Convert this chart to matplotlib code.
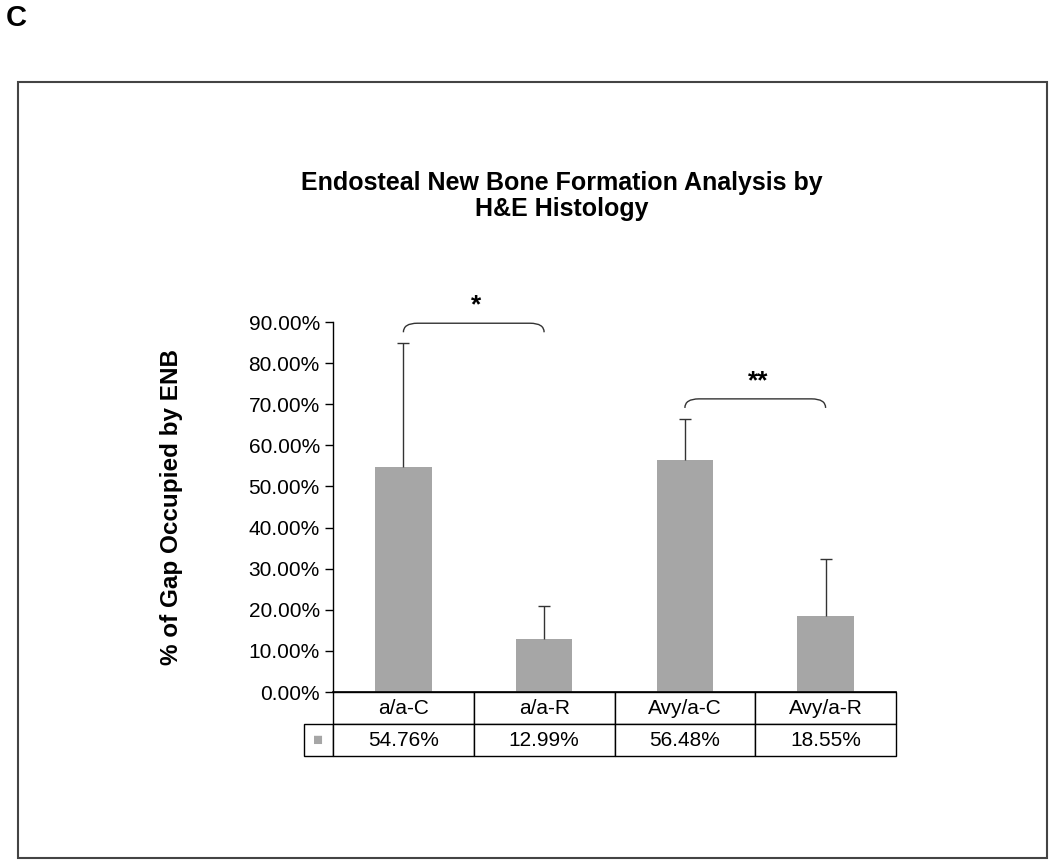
#--------------------- Importing the necessary libraries ---------------------------
import matplotlib
matplotlib.use("Agg")
import matplotlib.pyplot as plt
from matplotlib.path import Path
from matplotlib.patches import PathPatch, Rectangle
from matplotlib.table import Table
from matplotlib.ticker import FuncFormatter

plt.rcParams['font.family'] = ['Liberation Sans', 'DejaVu Sans']

#----------------------- Data -------------------------------------------------
categories = ['a/a-C', 'a/a-R', 'Avy/a-C', 'Avy/a-R']
means = [54.76, 12.99, 56.48, 18.55]          # % of gap occupied by ENB
errors_up = [30.1, 8.0, 10.0, 13.9]            # upper error bar lengths (%)
# significance brackets: (left bar, right bar, bracket height %, label)
brackets = [(0, 1, 89.7, '*'), (2, 3, 71.3, '**')]
yticks = [0, 10, 20, 30, 40, 50, 60, 70, 80, 90]

bar_color = '#a6a6a6'

#----------------------- Figure and axes ----------------------------
fig = plt.figure(figsize=(10.5, 8.61), dpi=100)
ax = fig.add_axes([333 / 1050, 169 / 861, 563 / 1050, 370 / 861])

x = list(range(len(categories)))
ax.bar(x, means, width=0.4, color=bar_color, zorder=2)
eb = ax.errorbar(x, means, yerr=[[0] * len(means), errors_up], fmt='none',
                 ecolor='#333333', elinewidth=1, capsize=4, capthick=1, zorder=3)
eb[1][0].set_visible(False)  # hide the lower caps, only upper whiskers shown

ax.set_xlim(-0.5, len(categories) - 0.5)
ax.set_ylim(0, 90)
ax.set_yticks(yticks)
ax.yaxis.set_major_formatter(FuncFormatter(lambda v, p: f'{v:.2f}%'))
ax.tick_params(axis='y', labelsize=15, length=6, width=1, direction='out')
ax.set_xticks([])
for side in ['top', 'right']:
    ax.spines[side].set_visible(False)
ax.spines['left'].set_linewidth(1)
ax.spines['bottom'].set_linewidth(1.2)

ax.set_ylabel('% of Gap Occupied by ENB', fontsize=17.5, fontweight='bold')
ax.yaxis.set_label_coords(-0.266, 0.5)

#----------------------- Significance brackets ----------------------------
for left, right, height, label in brackets:
    drop = 2.2
    bend = 0.1
    verts = [(left, height - drop), (left, height), (left + bend, height),
             (right - bend, height),
             (right, height), (right, height - drop)]
    codes = [Path.MOVETO, Path.CURVE3, Path.CURVE3, Path.LINETO,
             Path.CURVE3, Path.CURVE3]
    ax.add_patch(PathPatch(Path(verts, codes), fill=False, edgecolor='#333333',
                           lw=1, clip_on=False))
    ax.text((left + right) / 2 + 0.02, height + 4.3, label, ha='center',
            va='center', fontsize=19, fontweight='bold', clip_on=False)

#----------------------- Data table under the axes ----------------------------
row_h = 32 / 370
label_w = 29 / 563
tbl = Table(ax, bbox=[0, -2 * row_h, 1, 2 * row_h])
col_w = 1 / len(categories)
for j, cat in enumerate(categories):
    tbl.add_cell(0, j, col_w, row_h, text=cat, loc='center')
    tbl.add_cell(1, j, col_w, row_h, text=f'{means[j]:.2f}%', loc='center')
tbl.add_cell(1, -1, label_w, row_h, text='■', loc='center')
tbl.auto_set_font_size(False)
tbl.set_fontsize(15)
for (r, c), cell in tbl.get_celld().items():
    cell.set_edgecolor('black')
    cell.set_linewidth(1)
tbl[(1, -1)].get_text().set_color(bar_color)
tbl[(1, -1)].get_text().set_fontsize(12)
ax.add_table(tbl)

#----------------------- Title, panel letter and frame ----------------------------
fig.text(562 / 1050, 1 - 196 / 861,
         'Endosteal New Bone Formation Analysis by\nH&E Histology',
         ha='center', va='center', fontsize=18, fontweight='bold',
         linespacing=1.15)
fig.text(6 / 1050, 1 - 18 / 861, 'C', ha='left', va='center',
         fontsize=21, fontweight='bold')
fig.add_artist(Rectangle((18 / 1050, 3 / 861), 1029 / 1050, 776 / 861,
                         transform=fig.transFigure, fill=False,
                         edgecolor='#444444', lw=1.5))

plt.savefig('out.png', dpi=100)
